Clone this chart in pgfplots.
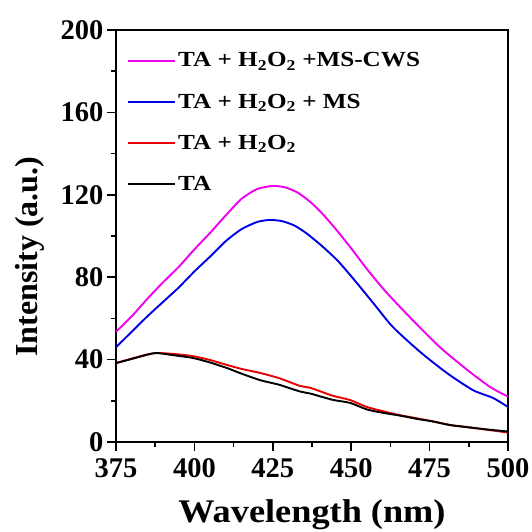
\documentclass[border=0pt]{standalone}
\usepackage{fontspec}
\setmainfont{Liberation Serif}
\usepackage{pgfplots}
\pgfplotsset{compat=1.18}

\definecolor{cMag}{RGB}{240,0,240}
\definecolor{cBlue}{RGB}{0,0,230}
\definecolor{cRed}{RGB}{230,0,0}

\newcommand{\sub}[1]{\textsubscript{#1}}

\begin{document}
\begin{tikzpicture}
\begin{axis}[
  at={(0,0)}, anchor=south west,
  scale only axis,
  width=392pt, height=412pt,
  xmin=375, xmax=500, ymin=0, ymax=200,
  xtick={375,400,...,500},
  ytick={0,40,...,200},
  minor tick num=1,
  tick align=outside,
  xtick pos=bottom, ytick pos=left,
  major tick length=9pt, minor tick length=5pt,
  every tick/.style={black, line width=1.6pt},
  axis line style={line width=2.2pt},
  /pgf/number format/assume math mode=true,
  tick label style={font=\fontsize{28.5}{28.5}\selectfont\bfseries},
  xticklabel style={yshift=-4pt},
  xlabel={Wavelength (nm)},
  ylabel={Intensity (a.u.)},
  x label style={at={(axis description cs:0.5,-0.196)}, anchor=base,
    font=\fontsize{33}{33}\selectfont\bfseries\addfontfeatures{FakeStretch=1.1}},
  y label style={at={(axis description cs:-0.219,0.45)}, anchor=center,
    font=\fontsize{32}{32}\selectfont\bfseries},
  legend style={at={(axis description cs:0.02,0.955)}, anchor=north west,
    draw=none, fill=none, row sep=21.5pt,
    font=\fontsize{21.5}{21.5}\selectfont\bfseries\addfontfeatures{FakeStretch=1.17}},
  legend cell align=left,
  legend image code/.code={\draw[#1, line width=2.2pt] (0pt,0pt) -- (47pt,0pt);},
  every axis plot/.append style={line width=1.9pt, smooth, tension=0.4},
]
\addplot[cMag] coordinates {
(375,53.5) (380,61) (385,69.5) (390,77.5) (395,85) (400,93.5)
(405,101.5) (410,110) (415,118) (420,122.8) (425,124.3) (429,123.6)
(433,121) (437,116.5) (441,110.5) (445,103.5) (450,94) (455,84)
(461,73) (469.7,59) (478.3,46) (487,35) (494.3,26.7) (500,22)
};
\addlegendentry{TA + H\sub{2}O\sub{2} +MS-CWS}
\addplot[cBlue] coordinates {
(375,46) (380,53.5) (385,61) (390,68) (395,75) (400,82.8)
(405,90) (410,97.5) (415,103.3) (420,106.8) (424,107.8) (428,107.2)
(432,105) (436,101) (441,94.7) (446,87.5) (451.8,77.2) (457,67.5)
(463.3,55.8) (472,43.7) (480.5,33.5) (488.8,25.2) (495.2,21.4) (500,17)
};
\addlegendentry{TA + H\sub{2}O\sub{2} + MS}
\addplot[cRed] coordinates {
(375,38.3) (380,40.5) (385,42.5) (388,43.2) (393,42.8) (399.5,41.7)
(405,39.8) (410.4,37.4) (415,35.5) (421,33.5) (427,31) (433.7,27.2)
(437,26.3) (444,22.5) (449.6,20.4) (455,17) (460,15) (465.6,13)
(471,11.5) (476,10) (481.5,8.3) (487,7.2) (494,5.8) (500,4.6)
};
\addlegendentry{TA + H\sub{2}O\sub{2}}
\addplot[black] coordinates {
(375,38.3) (380,40.3) (385,42.4) (388,43.2) (393,42.2) (399.5,40.8)
(405,38.6) (410.4,35.9) (415,33.2) (421,30) (427,27.8) (433.7,24.5)
(437,23.5) (444,20.5) (449.6,19) (455,15.8) (460,14.2) (465.6,12.8)
(471,11.2) (476,10) (481.5,8.2) (487,7.2) (494,6) (500,5.1)
};
\addlegendentry{TA}
\end{axis}
\pgfresetboundingbox
\useasboundingbox (-116pt,-90pt) rectangle (415pt,442pt);
\end{tikzpicture}
\end{document}
